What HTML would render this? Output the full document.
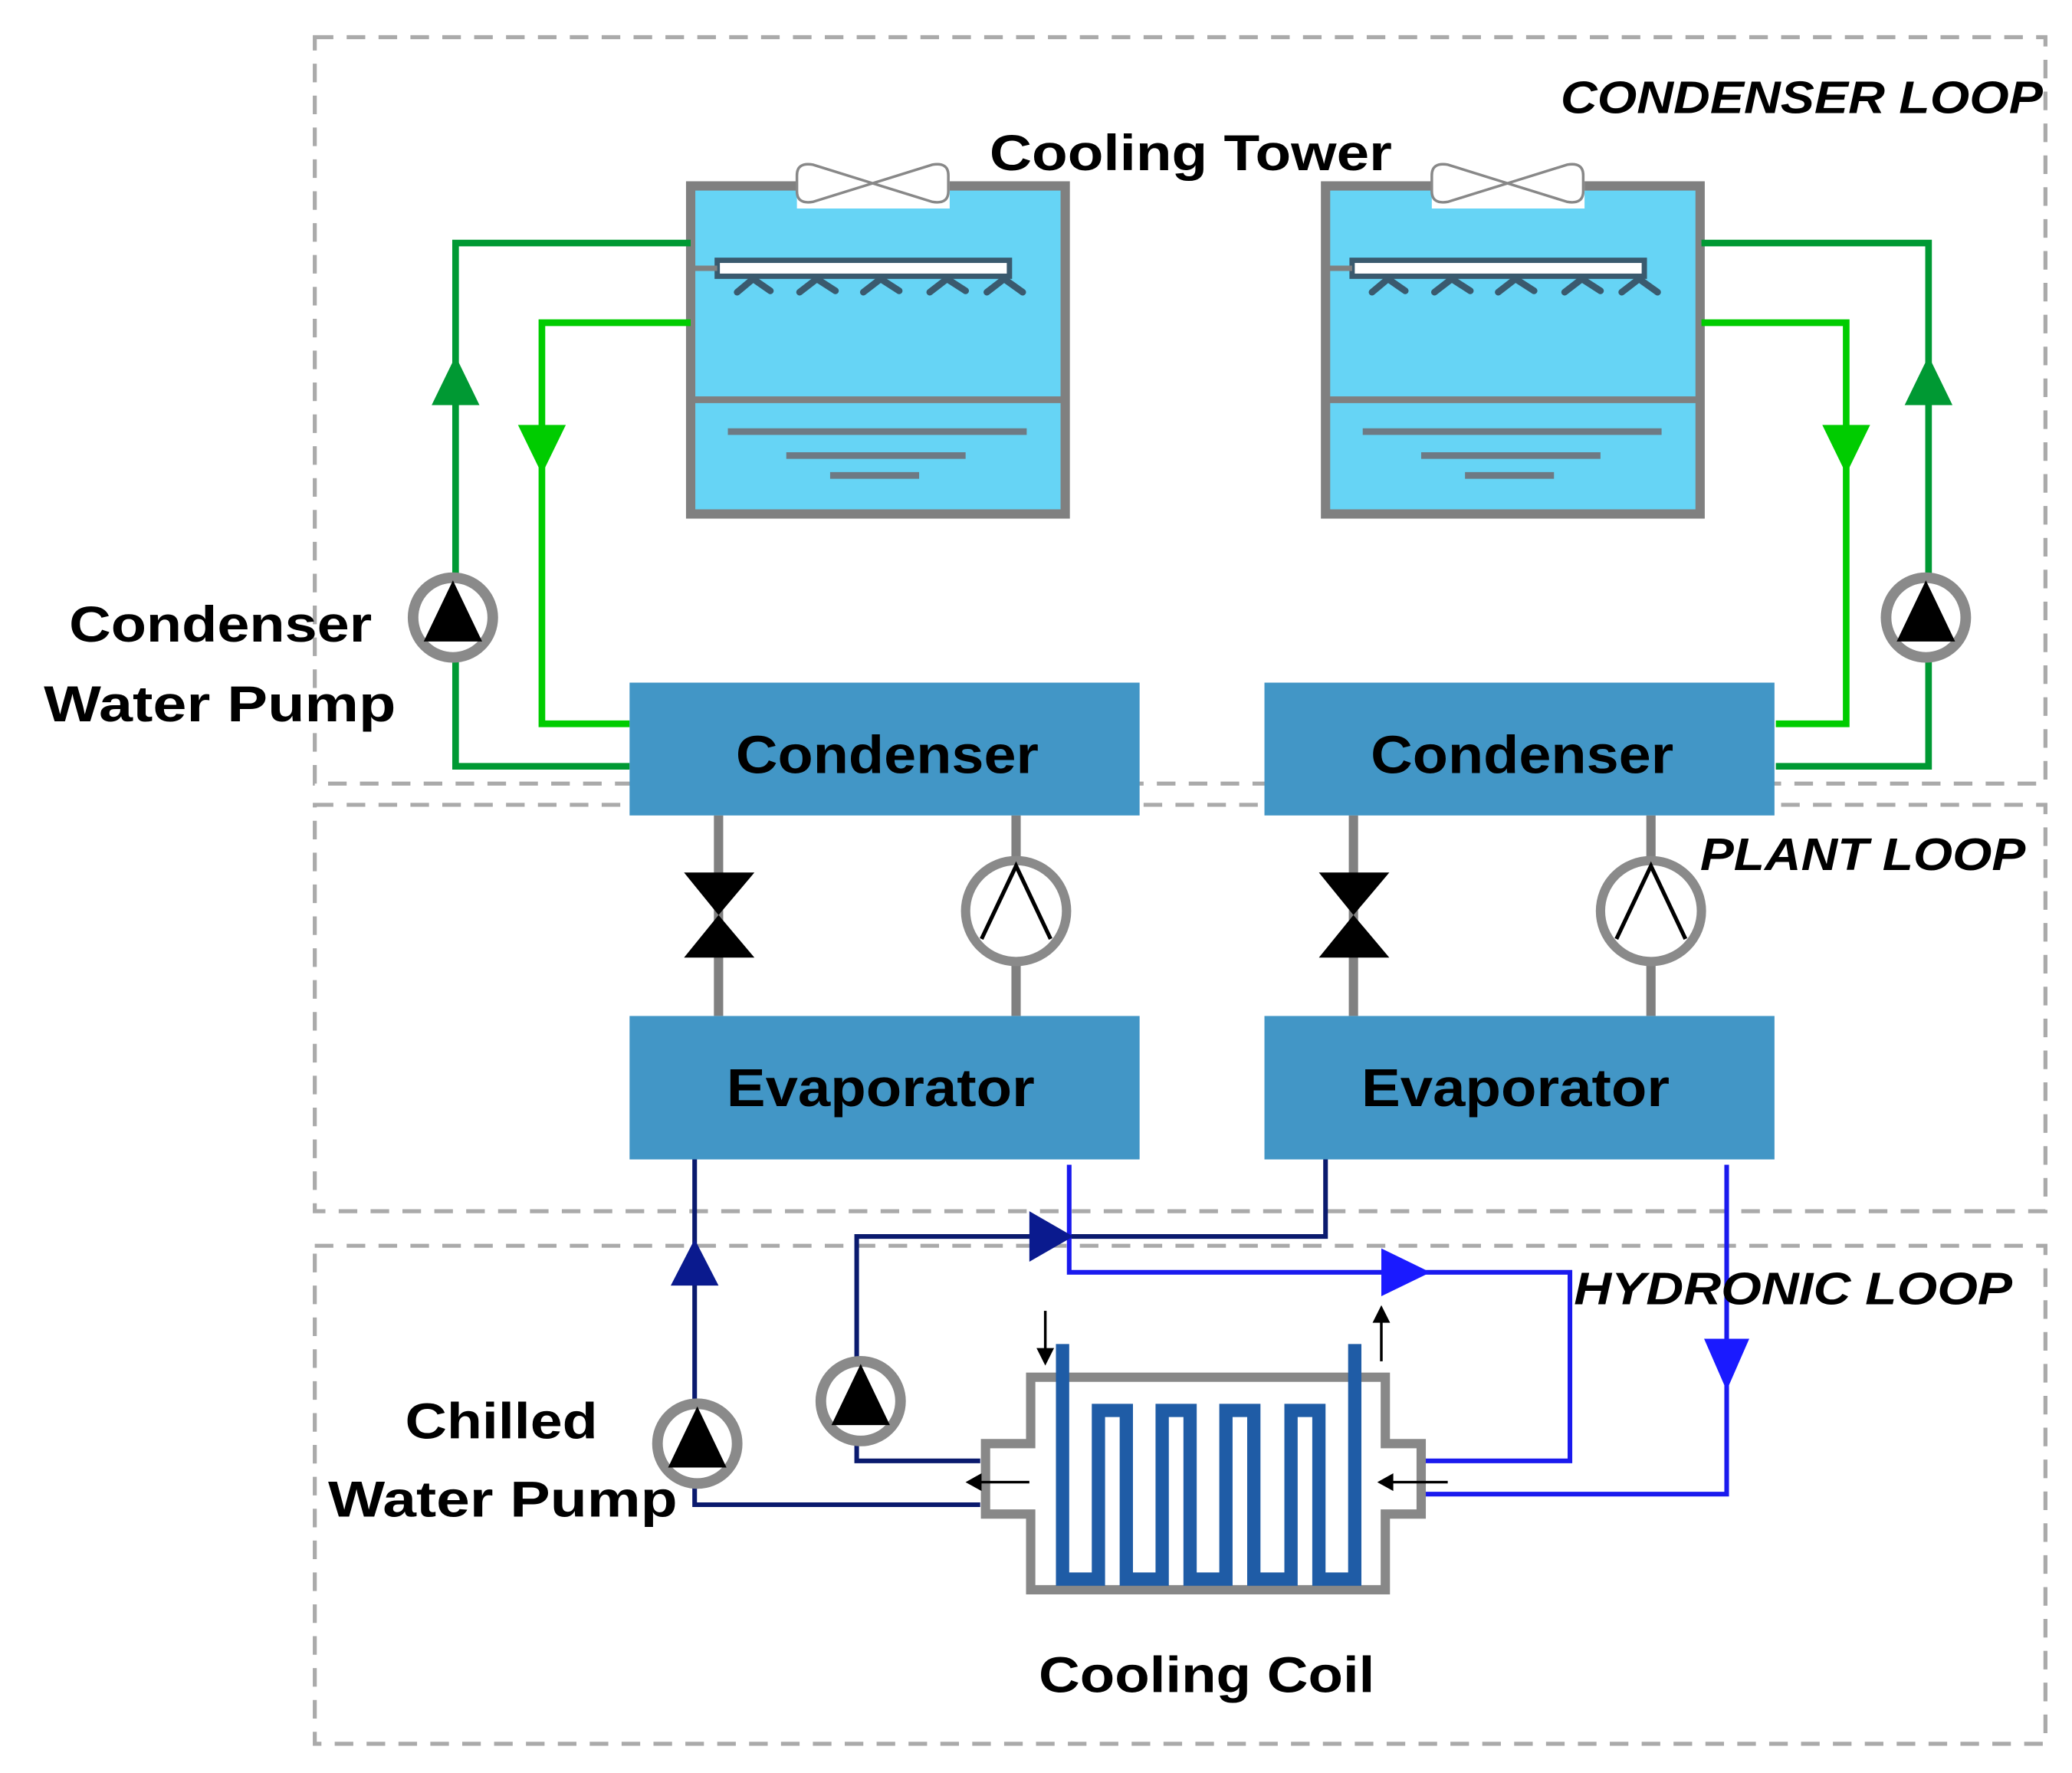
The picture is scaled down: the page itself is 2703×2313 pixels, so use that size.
<!DOCTYPE html>
<html><head><meta charset="utf-8"><style>
html,body{margin:0;padding:0;background:#fff}
svg{display:block}
text{font-family:"Liberation Sans",sans-serif;font-weight:bold;fill:#000}
</style></head><body>
<svg width="2703" height="2313" viewBox="0 0 1560 1335" preserveAspectRatio="none" xmlns="http://www.w3.org/2000/svg">
<defs>
<g id="tower">
  <rect x="520" y="140" width="282" height="247" fill="#66d4f5" stroke="#808080" stroke-width="7"/>
  <line x1="520" y1="301" x2="802" y2="301" stroke="#808080" stroke-width="5"/>
  <rect x="600" y="120" width="115" height="37" fill="#fff"/>
  <path d="M657,138 L612,124 Q600,122 600,132 L600,144 Q600,154 612,152 Z M657,138 L702,124 Q714,122 714,132 L714,144 Q714,154 702,152 Z" fill="#fff" stroke="#888" stroke-width="2"/>
  <rect x="540" y="196" width="220" height="12" fill="#fff" stroke="#3a5a6e" stroke-width="4"/>
  <line x1="520" y1="202" x2="540" y2="202" stroke="#808080" stroke-width="4"/>
  <g stroke="#3a5a6e" stroke-width="5" fill="none" stroke-linecap="round">
    <path d="M555,220 L567,210 L580,219"/><path d="M602,220 L615,210 L629,219"/><path d="M650,220 L663,210 L677,219"/><path d="M700,220 L713,210 L727,219"/><path d="M743,220 L756,210 L770,220"/>
  </g>
  <g stroke="#6e7a84" stroke-width="5">
    <line x1="548" y1="325" x2="773" y2="325"/><line x1="592" y1="343" x2="727" y2="343"/><line x1="625" y1="358" x2="692" y2="358"/>
  </g>
</g>
<g id="pump">
  <circle cx="0" cy="0" r="30" fill="#fff" stroke="#8a8a8a" stroke-width="8"/>
  <polygon points="0,-28 -22,18 22,18" fill="#000"/>
</g>
<g id="plant">
  <line x1="541" y1="614" x2="541" y2="765" stroke="#808080" stroke-width="7"/>
  <line x1="765" y1="614" x2="765" y2="765" stroke="#808080" stroke-width="7"/>
  <polygon points="515,657 568,657 541,689 568,721 515,721 541,689" fill="#000"/>
  <circle cx="765" cy="686" r="38" fill="#fff" stroke="#8a8a8a" stroke-width="7"/>
  <polyline points="739,707 765,652 791,707" fill="none" stroke="#000" stroke-width="3"/>
</g>
</defs>

<g fill="none" stroke="#aaa" stroke-width="3" stroke-dasharray="14,10">
  <rect x="237" y="28" width="1303" height="562"/>
  <rect x="237" y="606" width="1303" height="306"/>
  <rect x="237" y="938" width="1303" height="375"/>
</g>

<use href="#tower"/>
<use href="#tower" transform="translate(478,0)"/>

<g fill="none" stroke-width="5">
  <polyline points="520,183 343,183 343,577 474,577" stroke="#009933"/>
  <polyline points="520,243 408,243 408,545 474,545" stroke="#00cc00"/>
  <polyline points="1281,183 1452,183 1452,577 1337,577" stroke="#009933"/>
  <polyline points="1281,243 1390,243 1390,545 1337,545" stroke="#00cc00"/>
</g>
<polygon points="343,268 325,305 361,305" fill="#009933"/>
<polygon points="1452,268 1434,305 1470,305" fill="#009933"/>
<polygon points="408,357 390,320 426,320" fill="#00cc00"/>
<polygon points="1390,357 1372,320 1408,320" fill="#00cc00"/>
<use href="#pump" transform="translate(341,465)"/>
<use href="#pump" transform="translate(1450,465)"/>

<use href="#plant"/>
<use href="#plant" transform="translate(478,0)"/>
<rect x="474" y="514" width="384" height="100" fill="#4296c6"/>
<rect x="952" y="514" width="384" height="100" fill="#4296c6"/>
<rect x="474" y="765" width="384" height="108" fill="#4296c6"/>
<rect x="952" y="765" width="384" height="108" fill="#4296c6"/>
<text x="668" y="582" font-size="40" text-anchor="middle" textLength="228" lengthAdjust="spacingAndGlyphs">Condenser</text>
<text x="1146" y="582" font-size="40" text-anchor="middle" textLength="228" lengthAdjust="spacingAndGlyphs">Condenser</text>
<text x="663" y="833" font-size="40" text-anchor="middle" textLength="232" lengthAdjust="spacingAndGlyphs">Evaporator</text>
<text x="1141" y="833" font-size="40" text-anchor="middle" textLength="232" lengthAdjust="spacingAndGlyphs">Evaporator</text>

<g fill="none" stroke-width="3.5">
  <polyline points="523,873 523,1133 738,1133" stroke="#0a1a6e"/>
  <polyline points="998,873 998,931 645,931 645,1100 738,1100" stroke="#0a1a6e"/>
  <polyline points="805,877 805,958 1182,958 1182,1100 1070,1100" stroke="#1a1aee"/>
  <polyline points="1300,877 1300,1125 1070,1125" stroke="#1a1aee"/>
</g>
<polygon points="523,933 505,968 541,968" fill="#0a1a8e"/>
<polygon points="808,931 775,912 775,950" fill="#0a1a8e"/>
<polygon points="1077,958 1040,940 1040,976" fill="#1a1aff"/>
<polygon points="1300,1047 1283,1008 1317,1008" fill="#1a1aff"/>
<use href="#pump" transform="translate(525,1087)"/>
<use href="#pump" transform="translate(648,1055)"/>

<path d="M776,1037 H1043 V1087 H1070 V1140 H1043 V1197 H776 V1140 H742 V1087 H776 Z" fill="#fff" stroke="#888" stroke-width="7"/>
<polyline points="800,1012 800,1189 827,1189 827,1062 848,1062 848,1189 875,1189 875,1062 896,1062 896,1189 923,1189 923,1062 944,1062 944,1189 972,1189 972,1062 993,1062 993,1189 1020,1189 1020,1012" fill="none" stroke="#1f5ca6" stroke-width="10"/>
<g stroke="#000" stroke-width="2" fill="#000">
  <line x1="787" y1="987" x2="787" y2="1018"/><polygon points="782,1016 792,1016 787,1026"/>
  <line x1="1040" y1="995" x2="1040" y2="1025"/><polygon points="1035,995 1045,995 1040,985"/>
  <line x1="738" y1="1116" x2="775" y2="1116"/><polygon points="738,1111 738,1121 729,1116"/>
  <line x1="1048" y1="1116" x2="1090" y2="1116"/><polygon points="1048,1111 1048,1121 1039,1116"/>
</g>

<text x="745" y="128" font-size="38" textLength="303" lengthAdjust="spacingAndGlyphs">Cooling Tower</text>
<text x="1175" y="85" font-size="34" font-style="italic" textLength="363" lengthAdjust="spacingAndGlyphs">CONDENSER LOOP</text>
<text x="1280" y="655" font-size="34" font-style="italic" textLength="245" lengthAdjust="spacingAndGlyphs">PLANT LOOP</text>
<text x="1185" y="982" font-size="34" font-style="italic" textLength="330" lengthAdjust="spacingAndGlyphs">HYDRONIC LOOP</text>
<text x="52" y="483" font-size="38" textLength="228" lengthAdjust="spacingAndGlyphs">Condenser</text>
<text x="33" y="543" font-size="38" textLength="265" lengthAdjust="spacingAndGlyphs">Water Pump</text>
<text x="305" y="1083" font-size="38" textLength="145" lengthAdjust="spacingAndGlyphs">Chilled</text>
<text x="247" y="1142" font-size="38" textLength="263" lengthAdjust="spacingAndGlyphs">Water Pump</text>
<text x="782" y="1274" font-size="38" textLength="253" lengthAdjust="spacingAndGlyphs">Cooling Coil</text>
</svg>
</body></html>
